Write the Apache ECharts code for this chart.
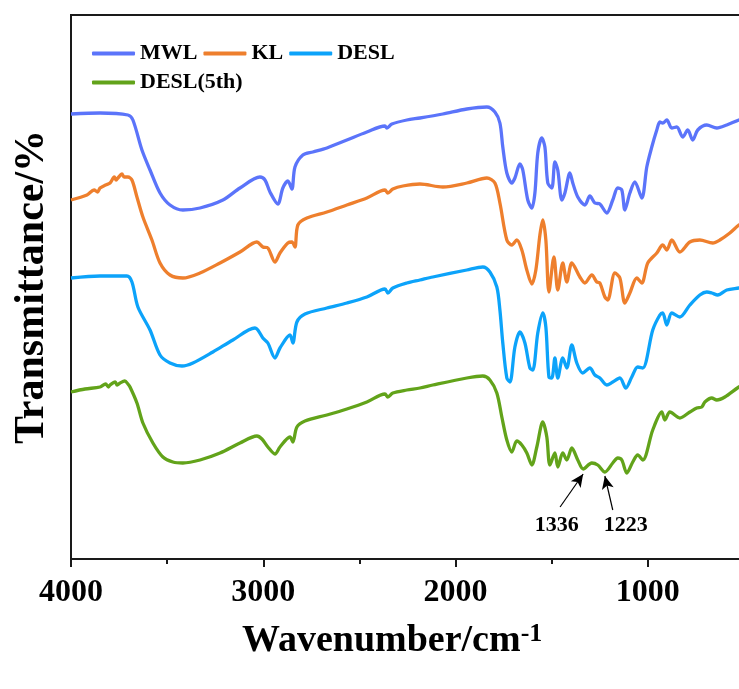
<!DOCTYPE html>
<html>
<head>
<meta charset="utf-8">
<title>FTIR spectra</title>
<script src="https://cdn.jsdelivr.net/npm/echarts@6/dist/echarts.min.js"></script>
<style>
  html, body { margin: 0; padding: 0; background: #fff; }
  #chart { width: 739px; height: 689px; }
</style>
</head>
<body>
<div id="chart"></div>
<script>
// FTIR spectra, [wavenumber (cm-1), transmittance (a.u., curves offset vertically)]
const seriesNames = ['MWL', 'KL', 'DESL', 'DESL(5th)'];

const mwlSpectrum = [
  [4000,111.25],[3849,111.5],[3704,111],[3678,109.75],[3631,102.25],[3589,97.25],[3537,91.5],
  [3485,88.5],[3418,87.25],[3329,87.75],[3210,89.75],[3121,92.75],[3017,95.5],[2991,94.75],
  [2965,91.75],[2924,88.75],[2898,92.75],[2872,94.5],[2851,92.5],[2835,98],[2794,101],
  [2742,101.75],[2669,102.75],[2565,104.75],[2461,106.75],[2367,108.25],[2357,107.75],
  [2331,108.75],[2253,109.75],[2185,110.25],[2066,111.25],[1941,112.5],[1837,113],
  [1795,111.75],[1769,109],[1754,103],[1733,96.5],[1707,94],[1691,95.25],[1665,98.75],
  [1650,97.25],[1624,89.75],[1603,87.75],[1587,91.5],[1572,101.5],[1551,105.25],[1535,103],
  [1520,94],[1499,92.75],[1483,99.25],[1468,97.25],[1447,89.75],[1431,91.5],[1405,96.5],
  [1390,94],[1364,90.5],[1327,88.5],[1301,90.75],[1275,89],[1249,88.75],[1213,86.5],
  [1182,89.75],[1156,92.75],[1135,92.25],[1119,87.25],[1093,91.5],[1067,94.25],[1031,90.25],
  [1005,98],[979,103],[953,107.25],[937,109.25],[922,109],[901,109.75],[875,107.75],
  [849,108],[818,105.5],[792,107.25],[766,104.75],[740,107.25],[693,108.5],[641,107.75],
  [589,108.5],[526,109.75],[500,110]
];

const klSpectrum = [
  [4000,89.75],[3917,91],[3880,92.25],[3862,91.75],[3849,92.75],[3820,93.5],[3797,94],
  [3775,95.5],[3765,94.75],[3756,95.25],[3735,96.25],[3724,95.5],[3704,95.5],
  [3683,94.75],[3657,90.5],[3626,85.5],[3579,79.75],[3537,74],[3485,71],[3418,70.25],
  [3329,71.5],[3225,74],[3121,76.75],[3033,79.25],[3002,78],[2976,77.75],[2939,74.25],
  [2913,76.5],[2872,79],[2851,79.25],[2835,78],[2820,83.5],[2773,85.25],[2669,86.75],
  [2565,88.5],[2461,90.25],[2367,92.25],[2352,91.5],[2326,92.5],[2274,93.25],[2185,93.75],
  [2066,93],[1941,94],[1837,95.25],[1795,94],[1769,89],[1733,79.75],[1707,78.5],[1681,79.75],
  [1655,77.25],[1629,72.25],[1603,68.75],[1582,72.25],[1561,81],[1546,84.75],[1530,79.75],
  [1514,66.75],[1488,75.5],[1468,67.25],[1442,74],[1421,69.25],[1395,74],[1353,70.5],
  [1327,69],[1291,71],[1265,69.25],[1249,69],[1223,65.5],[1208,64.75],[1171,71.5],
  [1145,70.25],[1119,64],[1093,66.5],[1057,70.25],[1031,69],[1000,74],[953,76.5],[922,78.5],
  [901,77.25],[875,79.75],[833,76.75],[781,79.25],[729,79.75],[662,79],[625,79.75],
  [573,81.5],[526,83.5],[500,84.25]
];

const deslSpectrum = [
  [4000,70.25],[3849,70.75],[3709,70.75],[3683,69.25],[3652,63],[3589,57.25],[3537,51],
  [3485,49],[3423,48.25],[3366,49],[3262,51.75],[3158,54.75],[3043,57.75],[3028,57.25],
  [3002,55.25],[2976,54],[2939,50.25],[2913,52.75],[2861,56],[2846,54],[2825,59.25],
  [2783,61.25],[2669,62.75],[2565,64],[2461,65.5],[2367,67.5],[2352,66.5],[2326,67.75],
  [2253,69],[2185,69.75],[2118,70.5],[1941,72.25],[1858,73],[1821,71.75],[1785,68],
  [1769,62.25],[1754,54],[1733,45.25],[1717,44.25],[1691,53],[1665,56.75],[1639,54],
  [1613,47.75],[1598,47.25],[1572,56.5],[1546,61.5],[1530,58],[1514,45.5],[1499,45.25],
  [1483,50.25],[1468,45.25],[1442,50.25],[1421,47.75],[1395,53.5],[1369,49],[1338,46.5],
  [1301,47.75],[1275,46],[1249,45.25],[1213,43.5],[1182,44.25],[1145,45.25],[1114,42.75],
  [1083,45.5],[1052,48],[1026,47.75],[974,57.25],[937,61],[922,61.5],[901,58.5],[875,61.5],
  [833,60.5],[781,63.5],[729,66],[693,66.75],[667,66.5],[636,66],[589,67.25],[526,67.75],
  [500,68]
];

const desl5Spectrum = [
  [4000,41.75],[3927,42.5],[3849,43],[3820,43.75],[3805,43],[3797,43.5],[3770,44.25],
  [3760,43.5],[3745,44],[3720,44.5],[3704,43.75],[3693,43],
  [3657,39],[3626,34],[3574,29],[3522,25.5],[3470,24.25],[3418,24],[3329,24.75],
  [3225,26.5],[3121,29],[3033,30.75],[3007,30],[2976,28],[2939,26.25],[2913,28],
  [2861,30.5],[2846,29.25],[2825,33],[2783,34.5],[2669,36],[2565,37.5],[2461,39.25],
  [2367,41.25],[2352,40.5],[2326,41.5],[2253,42.25],[2185,42.75],[2118,43.5],[1941,45.25],
  [1858,45.75],[1821,44.75],[1785,41.5],[1759,35.5],[1733,29.75],[1707,26.75],[1681,29.5],
  [1655,28.5],[1629,26.5],[1603,23.5],[1577,28],[1546,34.25],[1525,30.5],[1509,23.5],
  [1483,26.5],[1468,23],[1442,26.5],[1421,24.75],[1395,27.75],[1364,24.75],[1336,22.5],
  [1291,24],[1260,23.5],[1223,21.75],[1182,24],[1156,25.25],[1135,24.75],[1109,21.5],
  [1078,24.25],[1052,26],[1026,24.75],[974,32.25],[927,36.75],[911,34.75],[885,36.75],
  [833,35.25],[781,36.75],[745,37.75],[719,38],[703,39.25],[667,40.25],[641,39.75],
  [599,40.5],[526,43],[500,43.5]
];

// Bands marked on the DESL(5th) curve: label text, arrow tail, arrow tip, label anchor
const bandLabels = ['1336', '1223'];
const arrowTails = [[1456, 13], [1182, 12.25]];
const arrowTips = [[1336, 21.25], [1223, 20.75]];
const bandLabelPos = [[1473, 8.5], [1114, 8.5]];

const colors = ['#5B74FA', '#EE7F2D', '#0CA3FA', '#62A31A'];
const serif = '"Liberation Serif", "Times New Roman", serif';

const chart = echarts.init(document.getElementById('chart'));

const spectra = [mwlSpectrum, klSpectrum, deslSpectrum, desl5Spectrum];

const lineSeries = spectra.map((data, i) => ({
  name: seriesNames[i],
  type: 'line',
  data: data,
  showSymbol: false,
  symbol: 'none',
  smooth: 0.3,
  lineStyle: { color: colors[i], width: 3.3 },
  itemStyle: { color: colors[i] },
  z: 3
}));

// arrows pointing at the two bands
lineSeries[3].markLine = {
  silent: true,
  symbol: ['none', 'arrow'],
  symbolSize: [9, 13],
  label: { show: false },
  lineStyle: { color: '#000', width: 1.2, type: 'solid' },
  data: arrowTails.map((t, i) => [{ coord: t }, { coord: arrowTips[i] }])
};

const option = {
  animation: false,
  backgroundColor: '#fff',
  color: colors,
  title: {
    text: '{a|Wavenumber/cm}{b|-1}',
    left: 242,
    top: 621,
    padding: 0,
    textStyle: {
      rich: {
        a: { fontFamily: serif, fontWeight: 'bold', fontSize: 38, color: '#000', lineHeight: 40 },
        b: { fontFamily: serif, fontWeight: 'bold', fontSize: 26, color: '#000', lineHeight: 26, verticalAlign: 'top', padding: [0, 0, 14, 0] }
      }
    }
  },
  legend: {
    data: seriesNames,
    left: 92,
    top: 42,
    padding: 0,
    width: 320,
    icon: 'roundRect',
    itemWidth: 43,
    itemHeight: 4,
    itemGap: 6,
    textStyle: { fontFamily: serif, fontWeight: 'bold', fontSize: 22, color: '#000', lineHeight: 23 }
  },
  grid: {
    left: 71,
    top: 15,
    height: 544,
    width: 769,
    containLabel: false,
    outerBoundsMode: 'none',
    show: true,
    borderColor: '#1a1a1a',
    borderWidth: 2
  },
  xAxis: {
    type: 'value',
    inverse: true,
    min: 0,
    max: 4000,
    interval: 1000,
    axisLine: { show: true, lineStyle: { color: '#1a1a1a', width: 2 } },
    axisTick: { show: true, inside: false, length: 8, lineStyle: { color: '#1a1a1a', width: 2 } },
    minorTick: { show: true, splitNumber: 2, length: 5, lineStyle: { color: '#1a1a1a', width: 2 } },
    splitLine: { show: false },
    axisLabel: {
      margin: 18,
      fontFamily: serif,
      fontWeight: 'bold',
      fontSize: 32,
      color: '#000',
      showMinLabel: true,
      showMaxLabel: true,
      formatter: v => String(v)
    }
  },
  yAxis: {
    type: 'value',
    min: 0,
    max: 136,
    name: 'Transmittance/%',
    nameLocation: 'middle',
    nameGap: 18,
    nameTextStyle: { fontFamily: serif, fontWeight: 'bold', fontSize: 42, color: '#000' },
    axisLine: { show: true, lineStyle: { color: '#1a1a1a', width: 2 } },
    axisTick: { show: false },
    axisLabel: { show: false },
    splitLine: { show: false }
  },
  series: lineSeries.concat([{
    name: 'bands',
    type: 'scatter',
    silent: true,
    symbolSize: 1,
    itemStyle: { color: 'rgba(0,0,0,0)' },
    data: bandLabelPos.map((p, i) => ({ value: p, name: bandLabels[i] })),
    label: {
      show: true,
      position: 'inside',
      formatter: p => p.name,
      fontFamily: serif,
      fontWeight: 'bold',
      fontSize: 22,
      color: '#000',
      textBorderWidth: 0,
      opacity: 1
    },
    z: 5
  }])
};

chart.setOption(option);
</script>
</body>
</html>
